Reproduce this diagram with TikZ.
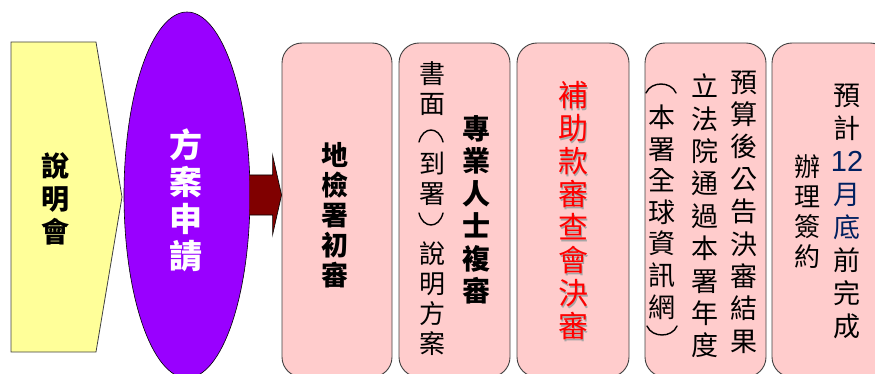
\documentclass[tikz,border=0pt]{standalone}
\usepackage{fontspec}
\newfontfamily\cjk{Noto Sans CJK TC}
\newfontfamily\lat{Liberation Sans}
\usetikzlibrary{shapes.geometric,calc}
\definecolor{penfill}{HTML}{FFFF99}
\definecolor{ovalfill}{HTML}{9900FF}
\definecolor{arrowfill}{HTML}{800000}
\definecolor{boxfill}{HTML}{FFCCCC}
\definecolor{edgecol}{HTML}{404040}
\definecolor{navy}{HTML}{002060}
\definecolor{redtxt}{HTML}{FF0000}
\begin{document}
\begin{tikzpicture}[x=1pt,y=-1pt,
  stepbox/.style={draw=edgecol, line width=0.9pt, fill=boxfill, rounded corners=20pt, inner sep=0pt},
  vt/.style={align=center, inner sep=0pt, text=black},
  brkline/.style={draw=black, line width=1.4pt, line cap=round}]
\useasboundingbox (0,0) rectangle (875,374);
\clip (0,0) rectangle (875,374);
% pentagon
\filldraw[fill=penfill, draw=edgecol, line width=0.8pt] (11,42) -- (96,42) -- (122,197) -- (96,352) -- (11,352) -- cycle;
\node[vt, font=\cjk\bfseries\fontsize{28}{33}\selectfont] (brief) at (55,199) {說\\明\\會};
% boxes
\node[stepbox, minimum width=110pt, minimum height=334pt] (b1) at (337,210) {};
\node[stepbox, minimum width=111pt, minimum height=334pt] (b2) at (454.5,210) {};
\node[stepbox, minimum width=112pt, minimum height=334pt] (b3) at (573,210) {};
\node[stepbox, minimum width=121pt, minimum height=334pt] (b4) at (705.5,210) {};
\node[stepbox, minimum width=118pt, minimum height=334pt] (b5) at (831,210) {};
% ellipse
\node[ellipse, draw=black, line width=0.6pt, fill=ovalfill, minimum width=126pt, minimum height=366pt, inner sep=0pt] (apply) at (187,195) {};
% block arrow
\coordinate (tip) at (apply.east -| b1.west);
\filldraw[fill=arrowfill, draw=black, line width=0.6pt]
  ($(apply.east)+(-1,-20)$) -- ($(tip)+(-9,-20)$) -- ($(tip)+(-9,-40)$) -- (tip)
  -- ($(tip)+(-9,40)$) -- ($(tip)+(-9,20)$) -- ($(apply.east)+(-1,20)$);
\node[vt, text=white, font=\cjk\bfseries\fontsize{33}{37}\selectfont] (applytext) at (186,200) {方\\案\\申\\請};
% box texts
\node[vt, font=\cjk\bfseries\fontsize{27}{30}\selectfont] (t1) at (335,215) {地\\檢\\署\\初\\審};
\node[vt, font=\cjk\bfseries\fontsize{28}{32.5}\selectfont] (t2a) at (476,210) {專\\業\\人\\士\\複\\審};
\node[vt, font=\cjk\fontsize{26}{30}\selectfont] (t2b) at (432,209) {書\\面\\\phantom{面}\\到\\署\\\phantom{面}\\說\\明\\方\\案};
\coordinate (t2l) at (431,136);
\coordinate (t2r) at (431,219);
\draw[brkline] ($(t2l)+(-12,6)$) .. controls ($(t2l)+(-8,-10)$) and ($(t2l)+(8,-10)$) .. ($(t2l)+(12,6)$);
\draw[brkline] ($(t2r)+(-12,-6)$) .. controls ($(t2r)+(-8,10)$) and ($(t2r)+(8,10)$) .. ($(t2r)+(12,-6)$);
\node[vt, text=gray!70, font=\cjk\fontsize{30}{33}\selectfont] (t3s) at (574.5,212.5) {補\\助\\款\\審\\查\\會\\決\\審};
\node[vt, text=redtxt, font=\cjk\fontsize{30}{33}\selectfont] (t3) at (573,211) {補\\助\\款\\審\\查\\會\\決\\審};
\node[vt, font=\cjk\fontsize{27}{32.4}\selectfont] (t4a) at (744,212) {預\\算\\後\\公\\告\\決\\審\\結\\果};
\node[vt, font=\cjk\fontsize{27}{32.4}\selectfont] (t4b) at (705,216) {立\\法\\院\\通\\過\\本\\署\\年\\度};
\node[vt, font=\cjk\fontsize{27}{31.6}\selectfont] (t4c) at (662,212) {本\\署\\全\\球\\資\\訊\\網};
\coordinate (t4l) at (661,88);
\coordinate (t4r) at (662,331);
\draw[brkline] ($(t4l)+(-15,5)$) .. controls ($(t4l)+(-10,-7)$) and ($(t4l)+(10,-7)$) .. ($(t4l)+(15,5)$);
\draw[brkline] ($(t4r)+(-15,-5)$) .. controls ($(t4r)+(-10,7)$) and ($(t4r)+(10,7)$) .. ($(t4r)+(15,-5)$);
\node[vt, font=\cjk\fontsize{27}{33}\selectfont] (t5a) at (847,211) {預\\計\\{\lat\fontsize{29}{33}\selectfont\color{navy}12}\\{\color{navy}月}\\{\color{navy}底}\\前\\完\\成};
\node[vt, font=\cjk\fontsize{26}{30}\selectfont] (t5b) at (807,212) {辦\\理\\簽\\約};
\end{tikzpicture}
\end{document}
